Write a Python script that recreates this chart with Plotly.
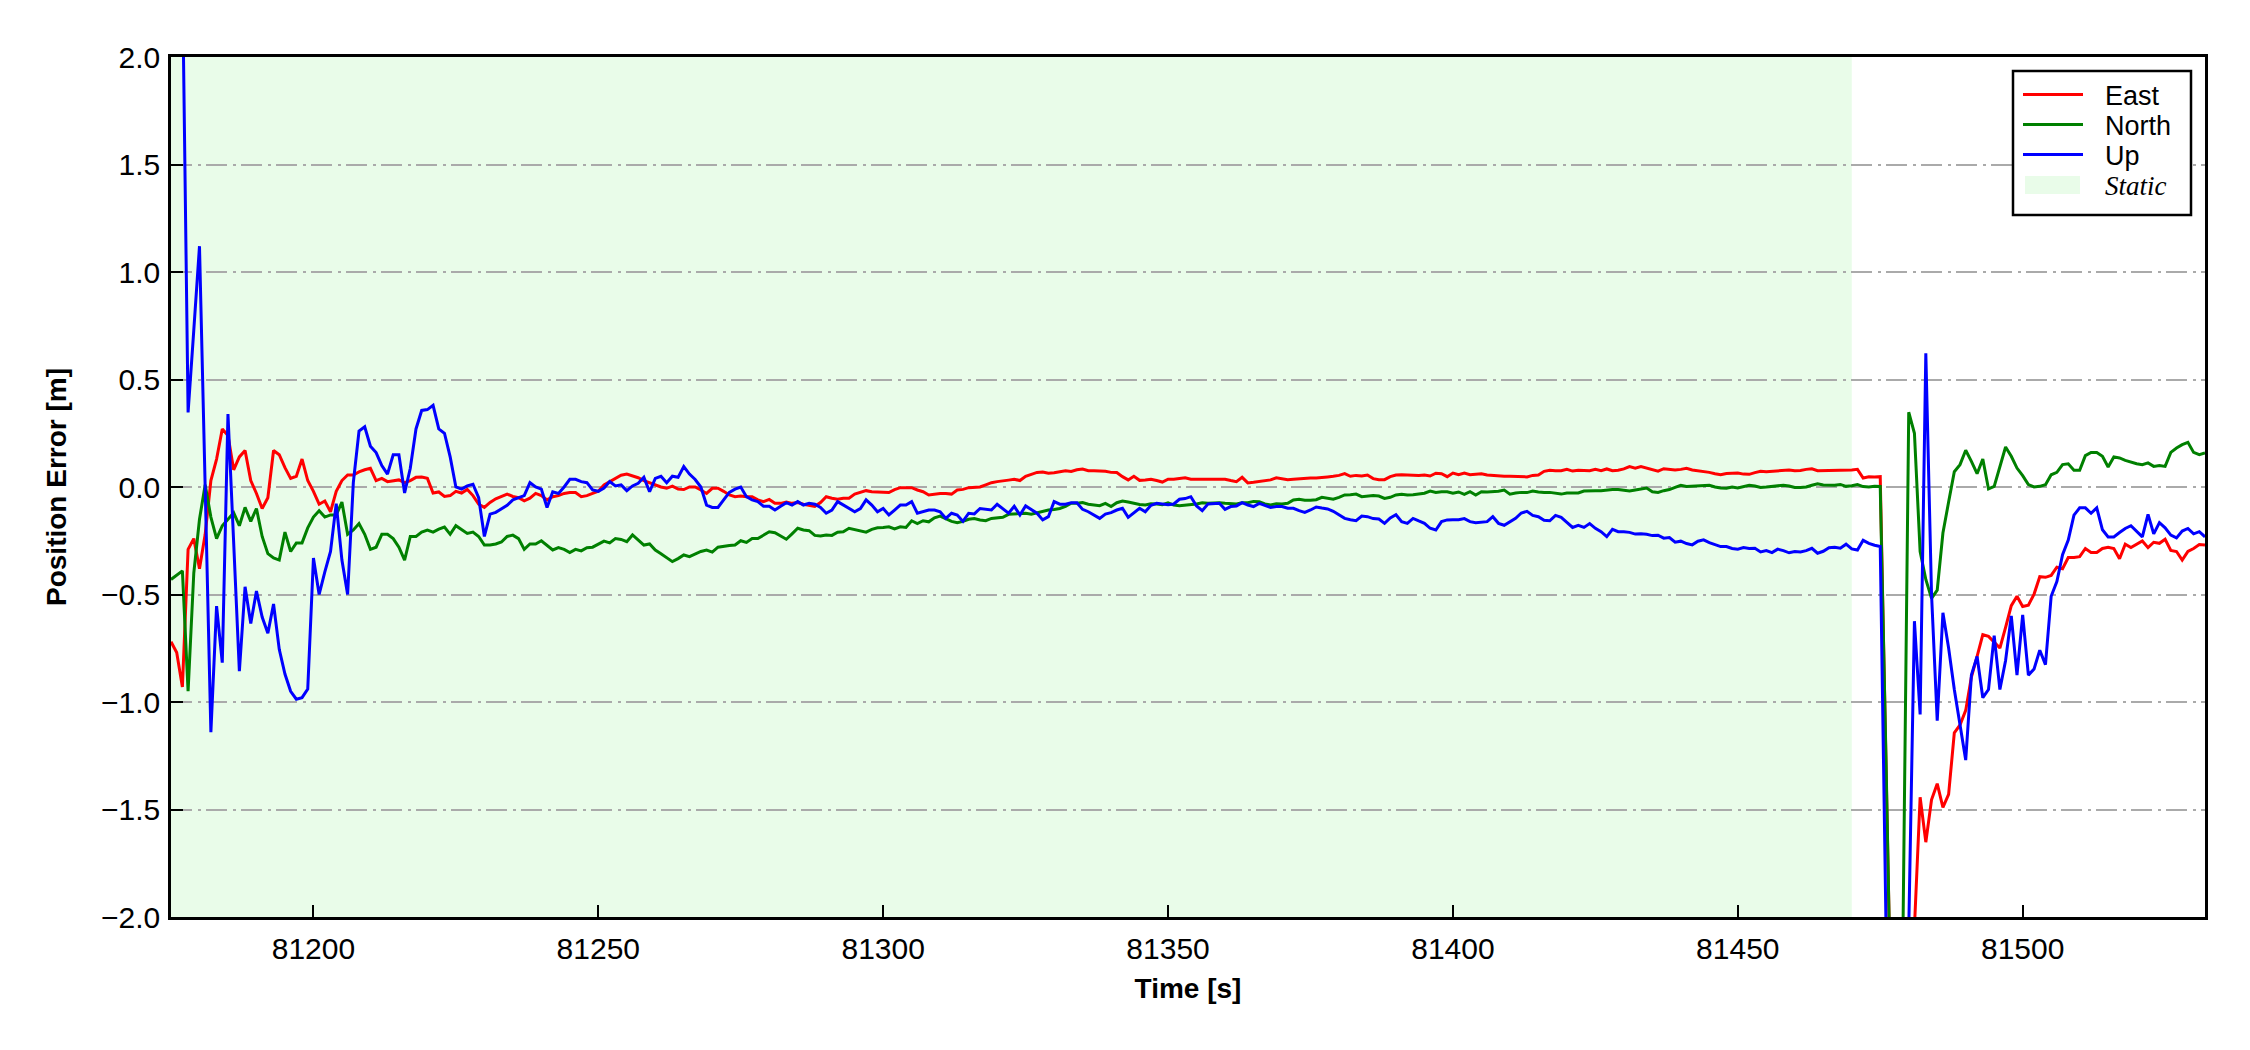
import plotly.graph_objects as go

# ---------------- data ----------------
t_start, t_end = 81175, 81532
time_s = list(range(t_start, t_end + 1))
static_start, static_end = 81175, 81470

east = [
    -0.72, -0.77, -0.93, -0.29, -0.24, -0.38, -0.22, 0.03, 0.13, 0.27,
    0.24, 0.08, 0.14, 0.17, 0.03, -0.03, -0.10, -0.05, 0.17, 0.15,
    0.09, 0.04, 0.05, 0.13, 0.03, -0.02, -0.08, -0.065, -0.115, -0.02,
    0.03, 0.056, 0.056, 0.07, 0.08, 0.087, 0.03, 0.04, 0.025, 0.03,
    0.033, 0.02, 0.03, 0.045, 0.046, 0.04, -0.028, -0.023, -0.044, -0.04,
    -0.02, -0.028, -0.011, -0.04, -0.08, -0.095, -0.072, -0.055, -0.045, -0.033,
    -0.044, -0.05, -0.064, -0.052, -0.03, -0.04,
    -0.06, -0.045, -0.04, -0.03, -0.026, -0.026, -0.045, -0.04, -0.03, -0.02,
    0.01, 0.025, 0.04, 0.055, 0.06, 0.052, 0.043, 0.03, 0.02, 0.01,
    0.0, -0.006, 0.004, -0.01, -0.012, 0.0, 0.0, -0.014, -0.03, -0.006,
    -0.006, -0.02, -0.037, -0.045, -0.042, -0.045, -0.045, -0.06, -0.068, -0.058,
    -0.076, -0.076, -0.07, -0.076, -0.072, -0.08, -0.084, -0.09, -0.072, -0.045,
    -0.052, -0.057, -0.052, -0.052, -0.033, -0.026, -0.017, -0.022, -0.022, -0.024,
    -0.026, -0.012, -0.003, -0.002, -0.003, -0.014, -0.022, -0.037, -0.033, -0.03,
    -0.03, -0.033, -0.014, -0.011, -0.003, 0.0, 0.0, 0.01, 0.02, 0.025,
    0.03, 0.032, 0.036, 0.03, 0.05, 0.06, 0.068, 0.07, 0.064, 0.066,
    0.071, 0.076, 0.072, 0.08, 0.084, 0.076, 0.076, 0.076,
    0.073, 0.068, 0.067, 0.048, 0.033, 0.05, 0.031, 0.033, 0.036, 0.03,
    0.023, 0.036, 0.036, 0.04, 0.043, 0.036, 0.036, 0.037, 0.037, 0.036,
    0.039, 0.036, 0.03, 0.025, 0.045, 0.019, 0.022, 0.026, 0.028, 0.033,
    0.043, 0.039, 0.034, 0.036, 0.039, 0.042, 0.042, 0.042, 0.043, 0.047,
    0.05, 0.054, 0.062, 0.05, 0.054, 0.051, 0.056, 0.039, 0.034, 0.034,
    0.048, 0.056, 0.057, 0.056, 0.054, 0.054, 0.056, 0.051, 0.064, 0.062,
    0.048, 0.065, 0.057, 0.065, 0.057, 0.06, 0.062, 0.056, 0.053, 0.051,
    0.05, 0.05, 0.05, 0.047, 0.047, 0.054, 0.056, 0.073, 0.078, 0.076,
    0.076, 0.082, 0.074, 0.078, 0.076, 0.076, 0.082, 0.076, 0.084, 0.076,
    0.078, 0.084, 0.095, 0.088, 0.095, 0.087,
    0.079, 0.074, 0.085, 0.082, 0.079, 0.082, 0.087, 0.079, 0.076, 0.073,
    0.068, 0.062, 0.057, 0.063, 0.065, 0.065, 0.06, 0.059, 0.067, 0.073,
    0.071, 0.073, 0.076, 0.077, 0.079, 0.076, 0.077, 0.082, 0.085, 0.076,
    0.076, 0.077, 0.079, 0.077, 0.076, 0.079, 0.082, 0.042, 0.048, 0.046,
    0.048,
    -1.3, -2.6, -4.5, -4.0, -3.0,
    -2.05, -1.443, -1.652, -1.455, -1.38, -1.49, -1.43, -1.143, -1.107, -1.039,
    -0.884, -0.788, -0.687, -0.695, -0.72, -0.749, -0.653, -0.552, -0.508, -0.556,
    -0.55, -0.498, -0.417, -0.42, -0.411, -0.373, -0.38, -0.328, -0.328, -0.324,
    -0.286, -0.305, -0.305, -0.286, -0.28, -0.286, -0.334, -0.266, -0.282, -0.266,
    -0.251, -0.282, -0.257, -0.262, -0.243, -0.295, -0.3, -0.34, -0.3, -0.286,
    -0.268, -0.27,
]

north = [
    -0.43, -0.41, -0.39, -0.95, -0.40, -0.15, 0.01, -0.14, -0.24, -0.18,
    -0.15, -0.12, -0.18, -0.095, -0.16, -0.10, -0.23, -0.31, -0.33, -0.34,
    -0.21, -0.30, -0.26, -0.26, -0.19, -0.14, -0.11, -0.14, -0.13, -0.13,
    -0.07, -0.22, -0.20, -0.17, -0.22, -0.29, -0.28, -0.22, -0.22, -0.24,
    -0.28, -0.34, -0.23, -0.23, -0.21, -0.20, -0.21, -0.196, -0.186, -0.22,
    -0.18, -0.20, -0.216, -0.21, -0.23, -0.27, -0.27, -0.265, -0.256, -0.23,
    -0.224, -0.24, -0.29, -0.265, -0.265, -0.25,
    -0.27, -0.293, -0.282, -0.29, -0.305, -0.29, -0.297, -0.282, -0.28, -0.265,
    -0.252, -0.26, -0.24, -0.244, -0.254, -0.223, -0.246, -0.27, -0.265, -0.293,
    -0.31, -0.327, -0.347, -0.333, -0.316, -0.324, -0.312, -0.3, -0.293, -0.303,
    -0.28, -0.275, -0.272, -0.27, -0.25, -0.258, -0.24, -0.24, -0.223, -0.208,
    -0.213, -0.23, -0.243, -0.218, -0.192, -0.2, -0.203, -0.225, -0.228, -0.223,
    -0.225, -0.21, -0.208, -0.192, -0.197, -0.203, -0.21, -0.197, -0.19, -0.188,
    -0.185, -0.195, -0.185, -0.188, -0.157, -0.17, -0.157, -0.162, -0.143, -0.135,
    -0.146, -0.16, -0.166, -0.16, -0.15, -0.147, -0.153, -0.157, -0.146, -0.143,
    -0.141, -0.127, -0.125, -0.125, -0.122, -0.127, -0.12, -0.114, -0.107, -0.105,
    -0.1, -0.09, -0.075, -0.075, -0.072, -0.08, -0.085, -0.087,
    -0.076, -0.091, -0.073, -0.065, -0.07, -0.076, -0.081, -0.084, -0.078, -0.079,
    -0.082, -0.074, -0.084, -0.087, -0.085, -0.084, -0.079, -0.073, -0.076, -0.074,
    -0.073, -0.076, -0.078, -0.079, -0.073, -0.073, -0.067, -0.068, -0.079, -0.084,
    -0.078, -0.079, -0.076, -0.06, -0.057, -0.062, -0.062, -0.059, -0.048, -0.053,
    -0.057, -0.048, -0.037, -0.036, -0.033, -0.045, -0.042, -0.04, -0.042, -0.053,
    -0.048, -0.037, -0.034, -0.037, -0.036, -0.034, -0.029, -0.019, -0.025, -0.022,
    -0.022, -0.029, -0.023, -0.034, -0.022, -0.037, -0.022, -0.023, -0.023, -0.02,
    -0.014, -0.033, -0.028, -0.025, -0.026, -0.019, -0.023, -0.026, -0.025, -0.028,
    -0.033, -0.028, -0.028, -0.028, -0.019, -0.017, -0.017, -0.017, -0.014, -0.012,
    -0.012, -0.014, -0.019, -0.014, -0.009, -0.005,
    -0.022, -0.025, -0.017, -0.012, -0.002, 0.008, 0.002, 0.003, 0.005, 0.006,
    0.008, 0.0, -0.005, -0.006, 0.0, -0.005, 0.002, 0.008, 0.005, -0.002,
    0.0, 0.002, 0.005, 0.008, 0.005, -0.002, -0.002, 0.0, 0.008, 0.015,
    0.009, 0.008, 0.008, 0.012, 0.003, 0.006, 0.011, 0.002, 0.0, 0.003,
    0.002,
    -1.25, -2.6, -4.0, -2.05, 0.348,
    0.25, -0.30, -0.43, -0.518, -0.48, -0.214, -0.07, 0.071, 0.104, 0.171,
    0.119, 0.062, 0.13, -0.009, 0.003, 0.096, 0.186, 0.143, 0.088, 0.053,
    0.011, 0.0, 0.003, 0.011, 0.057, 0.068, 0.104, 0.108, 0.078, 0.078,
    0.146, 0.161, 0.161, 0.143, 0.093, 0.14, 0.135, 0.124, 0.115, 0.108,
    0.104, 0.112, 0.096, 0.1, 0.096, 0.161, 0.181, 0.197, 0.208, 0.161,
    0.15, 0.158,
]

up = [
    3.0, 2.8, 2.4, 0.347, 0.73, 1.12, 0.0, -1.14, -0.554, -0.817,
    0.339, -0.26, -0.857, -0.464, -0.635, -0.484, -0.605, -0.68, -0.544, -0.755,
    -0.87, -0.95, -0.987, -0.98, -0.94, -0.33, -0.50, -0.395, -0.30, -0.077,
    -0.34, -0.50, 0.02, 0.26, 0.28, 0.19, 0.16, 0.10, 0.06, 0.15,
    0.15, -0.028, 0.087, 0.27, 0.356, 0.36, 0.38, 0.27, 0.25, 0.14,
    0.0, -0.01, 0.005, 0.013, -0.05, -0.23, -0.126, -0.118, -0.10, -0.085,
    -0.06, -0.05, -0.04, 0.02, 0.0, -0.01,
    -0.095, -0.022, -0.03, 0.0, 0.036, 0.036, 0.025, 0.02, -0.014, -0.02,
    -0.005, 0.025, 0.005, 0.01, -0.017, 0.005, 0.017, 0.045, -0.022, 0.04,
    0.05, 0.02, 0.05, 0.045, 0.095, 0.06, 0.035, 0.0, -0.084, -0.095,
    -0.095, -0.06, -0.025, -0.01, 0.0, -0.045, -0.06, -0.068, -0.09, -0.09,
    -0.107, -0.09, -0.073, -0.084, -0.068, -0.084, -0.076, -0.08, -0.095, -0.122,
    -0.107, -0.068, -0.084, -0.1, -0.115, -0.1, -0.06, -0.084, -0.115, -0.1,
    -0.13, -0.107, -0.084, -0.084, -0.068, -0.122, -0.115, -0.107, -0.107, -0.115,
    -0.146, -0.122, -0.13, -0.16, -0.122, -0.125, -0.1, -0.105, -0.107, -0.08,
    -0.1, -0.122, -0.09, -0.13, -0.088, -0.107, -0.122, -0.153, -0.138, -0.068,
    -0.08, -0.08, -0.073, -0.073, -0.104, -0.115, -0.13, -0.146,
    -0.126, -0.119, -0.107, -0.099, -0.141, -0.122, -0.099, -0.115, -0.085, -0.076,
    -0.079, -0.082, -0.079, -0.057, -0.054, -0.045, -0.088, -0.11, -0.079, -0.076,
    -0.076, -0.104, -0.091, -0.088, -0.073, -0.084, -0.091, -0.076, -0.085, -0.095,
    -0.091, -0.091, -0.099, -0.099, -0.11, -0.118, -0.107, -0.093, -0.098, -0.102,
    -0.113, -0.129, -0.146, -0.152, -0.157, -0.135, -0.138, -0.147, -0.149, -0.169,
    -0.144, -0.129, -0.161, -0.169, -0.146, -0.158, -0.169, -0.192, -0.2, -0.161,
    -0.153, -0.152, -0.152, -0.147, -0.161, -0.166, -0.163, -0.161, -0.138, -0.169,
    -0.178, -0.16, -0.146, -0.121, -0.113, -0.132, -0.138, -0.155, -0.157, -0.132,
    -0.141, -0.164, -0.188, -0.178, -0.188, -0.17, -0.192, -0.208, -0.231, -0.197,
    -0.208, -0.208, -0.211, -0.219, -0.217, -0.22,
    -0.226, -0.224, -0.238, -0.235, -0.257, -0.252, -0.263, -0.269, -0.252, -0.246,
    -0.259, -0.268, -0.277, -0.277, -0.286, -0.289, -0.282, -0.286, -0.285, -0.302,
    -0.296, -0.305, -0.289, -0.296, -0.306, -0.3, -0.302, -0.296, -0.285, -0.308,
    -0.299, -0.282, -0.28, -0.285, -0.266, -0.288, -0.293, -0.248, -0.262, -0.271,
    -0.277,
    -2.02, -4.0, -4.5, -3.5, -2.05,
    -0.624, -1.058, 0.622, -0.498, -1.087, -0.585, -0.749, -0.942, -1.1, -1.27,
    -0.875, -0.788, -0.98, -0.942, -0.691, -0.942, -0.807, -0.6, -0.875, -0.595,
    -0.875, -0.846, -0.759, -0.826, -0.508, -0.44, -0.315, -0.247, -0.131, -0.097,
    -0.097, -0.122, -0.097, -0.199, -0.232, -0.232, -0.212, -0.193, -0.18, -0.205,
    -0.232, -0.127, -0.218, -0.166, -0.19, -0.224, -0.237, -0.205, -0.193, -0.218,
    -0.208, -0.232,
]

series_names = ["East", "North", "Up"]
series_colors = ["#ff0000", "#008000", "#0000ff"]
static_label = "Static"
static_fill = "rgba(144,238,144,0.2)"
x_ticks = [81200, 81250, 81300, 81350, 81400, 81450, 81500]
y_ticks = [-2.0, -1.5, -1.0, -0.5, 0.0, 0.5, 1.0, 1.5, 2.0]

assert len(east) == len(time_s), len(east)
assert len(north) == len(time_s), len(north)
assert len(up) == len(time_s), len(up)

# ---------------- layout geometry (page pixels) ----------------
W, H = 2250, 1050
PAGE_OFF = 8                      # default body margin of the html page
PL, PR, PT, PB = 171, 2205, 57, 917   # plot area on the page
ML, MT = PL - PAGE_OFF, PT - PAGE_OFF
MR = W - (PR - PAGE_OFF)
MB = H - (PB - PAGE_OFF)


def fx(px):
    return (px - PL) / (PR - PL)


def fy(py):
    return (PB - py) / (PB - PT)


FONT = "Liberation Sans, Arial, sans-serif"
SERIF = "Liberation Serif, Times New Roman, serif"
fig = go.Figure()

for name, vals, col in zip(series_names, [east, north, up], series_colors):
    fig.add_trace(go.Scatter(
        x=time_s, y=vals, mode="lines", name=name,
        line=dict(color=col, width=3.0), showlegend=False,
    ))

# static period shading
fig.add_shape(
    type="rect", xref="x", yref="paper",
    x0=static_start, x1=static_end, y0=0, y1=1,
    fillcolor=static_fill, line=dict(width=0), layer="below",
)

# ---- legend (drawn box, like the matplotlib one) ----
box_l, box_r, box_t, box_b = 2013, 2191, 71, 215
fig.add_shape(type="rect", xref="paper", yref="paper",
              x0=fx(box_l), x1=fx(box_r), y0=fy(box_b), y1=fy(box_t),
              fillcolor="white", line=dict(color="black", width=2.5), layer="above")
row_y = [94.5, 124.5, 154.5, 185]
line_x0, line_x1, text_x = 2023, 2083, 2103
for name, col, ry in zip(series_names, series_colors, row_y[:3]):
    fig.add_shape(type="line", xref="paper", yref="paper",
                  x0=fx(line_x0), x1=fx(line_x1), y0=fy(ry), y1=fy(ry),
                  line=dict(color=col, width=3.0), layer="above")
    fig.add_annotation(xref="paper", yref="paper", x=fx(text_x), y=fy(ry + 1.5),
                       text=name, showarrow=False, xanchor="left", yanchor="middle",
                       font=dict(family=FONT, size=27, color="black"))
fig.add_shape(type="rect", xref="paper", yref="paper",
              x0=fx(2025), x1=fx(2080), y0=fy(row_y[3] + 9), y1=fy(row_y[3] - 9),
              fillcolor=static_fill, line=dict(width=0), layer="above")
fig.add_annotation(xref="paper", yref="paper", x=fx(text_x), y=fy(row_y[3] + 1.5),
                   text="<i>" + static_label + "</i>", showarrow=False,
                   xanchor="left", yanchor="middle",
                   font=dict(family=SERIF, size=27, color="black"))

fig.update_layout(
    width=W, height=H,
    paper_bgcolor="white", plot_bgcolor="white",
    margin=dict(l=ML, r=MR, t=MT, b=MB, autoexpand=False),
    font=dict(family=FONT, color="black"),
    showlegend=False,
)

fig.update_xaxes(
    range=[t_start, t_end], automargin=False,
    tickvals=x_ticks, ticktext=[str(v) for v in x_ticks],
    showgrid=False, zeroline=False,
    showline=True, mirror=True, linecolor="black", linewidth=2.5,
    ticks="inside", ticklen=12, tickwidth=2, tickcolor="black",
    tickfont=dict(family=FONT, size=30, color="black"),
    ticklabelstandoff=3,
    title=dict(text="Time [s]", font=dict(family=FONT, size=28, color="black", weight="bold"), standoff=15),
)

fig.update_yaxes(
    range=[-2, 2], automargin=False,
    tickvals=y_ticks, tickformat=".1f",
    showgrid=True, gridcolor="#aaaaaa", gridwidth=2, griddash="21px,6px,3px,5px",
    zeroline=False,
    showline=True, mirror=True, linecolor="black", linewidth=2.5,
    ticks="inside", ticklen=12, tickwidth=2, tickcolor="black",
    tickfont=dict(family=FONT, size=30, color="black"),
    ticklabelstandoff=2,
    title=dict(text="Position Error [m]", font=dict(family=FONT, size=28, color="black", weight="bold"), standoff=27),
)

fig.write_html("out.html")
